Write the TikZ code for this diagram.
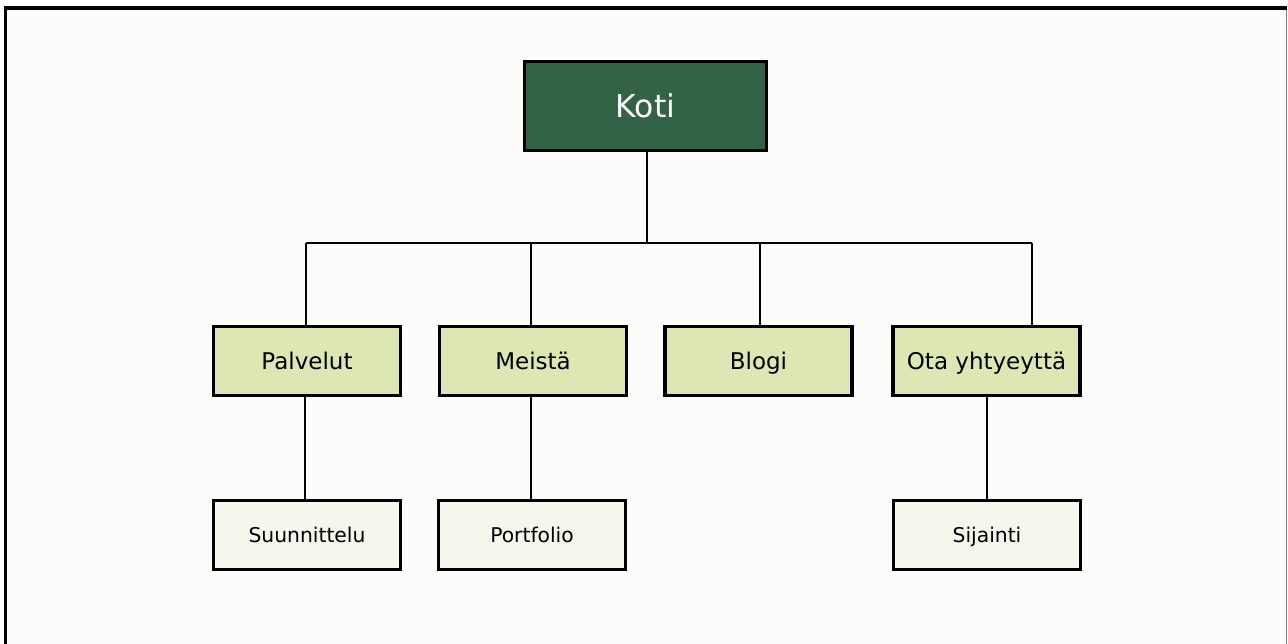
\documentclass[tikz,border=0pt]{standalone}
\usepackage{fontspec}
\setmainfont{DejaVu Sans}
\definecolor{pagebg}{HTML}{FDFCFA}
\definecolor{rootfill}{HTML}{336347}
\definecolor{midfill}{HTML}{DDE7B3}
\definecolor{leaffill}{HTML}{F6F6EC}
\definecolor{framegray}{HTML}{777777}
\begin{document}
\begin{tikzpicture}[x=1pt,y=-1pt,
  box/.style={draw=black, line width=3.3pt, rectangle, inner sep=0pt,
    minimum width=187pt, minimum height=69pt, text=black, text depth=0pt},
  rootbox/.style={box, fill=rootfill, text=white, minimum width=242pt,
    minimum height=89pt, font=\fontsize{31.5}{37}\selectfont, text height=23pt},
  midbox/.style={box, fill=midfill, font=\fontsize{23}{28}\selectfont, text height=16.8pt},
  leafbox/.style={box, fill=leaffill, font=\fontsize{20.3}{24}\selectfont, text height=14.8pt},
  link/.style={draw=black, line width=2.2pt}]
% page and frame
\useasboundingbox (0,0) rectangle (1288,644);
\fill[white] (0,0) rectangle (1288,644);
\fill[pagebg] (6,8) rectangle (1287,644);
\draw[framegray, line width=1.2pt] (1286.5,8) -- (1286.5,644);
\draw[black, line width=3.5pt] (5.5,644) -- (5.5,8) -- (1287,8);

% nodes
\node[rootbox] (koti) at (645.5,106) {Koti};
\node[midbox] (palvelut) at (307,361) {Palvelut};
\node[midbox] (meista) at (533,361) {Meistä};
\node[midbox] (blogi) at (758.5,361) {Blogi};
\node[midbox] (ota) at (986.5,361) {Ota yhtyeyttä};
\node[leafbox] (suunnittelu) at (307,535) {Suunnittelu};
\node[leafbox] (portfolio) at (532,535) {Portfolio};
\node[leafbox] (sijainti) at (987,535) {Sijainti};

% bus coordinates
\coordinate (busL) at (306,243);
\coordinate (busM) at (531,243);
\coordinate (busB) at (760,243);
\coordinate (busR) at (1032,243);
\coordinate (busK) at (647,243);

% connectors
\draw[link] (busK |- koti.south) -- (busK);
\draw[link] (busL) -- (busR);
\draw[link] (busL) -- (busL |- palvelut.north);
\draw[link] (busM) -- (busM |- meista.north);
\draw[link] (busB) -- (busB |- blogi.north);
\draw[link] (busR) -- (busR |- ota.north);
\draw[link] ([xshift=-2pt]palvelut.south) -- ([xshift=-2pt]palvelut.south |- suunnittelu.north);
\draw[link] ([xshift=-2pt]meista.south) -- ([xshift=-2pt]meista.south |- portfolio.north);
\draw[link] ([xshift=0.5pt]ota.south) -- ([xshift=0.5pt]ota.south |- sijainti.north);
\end{tikzpicture}
\end{document}
